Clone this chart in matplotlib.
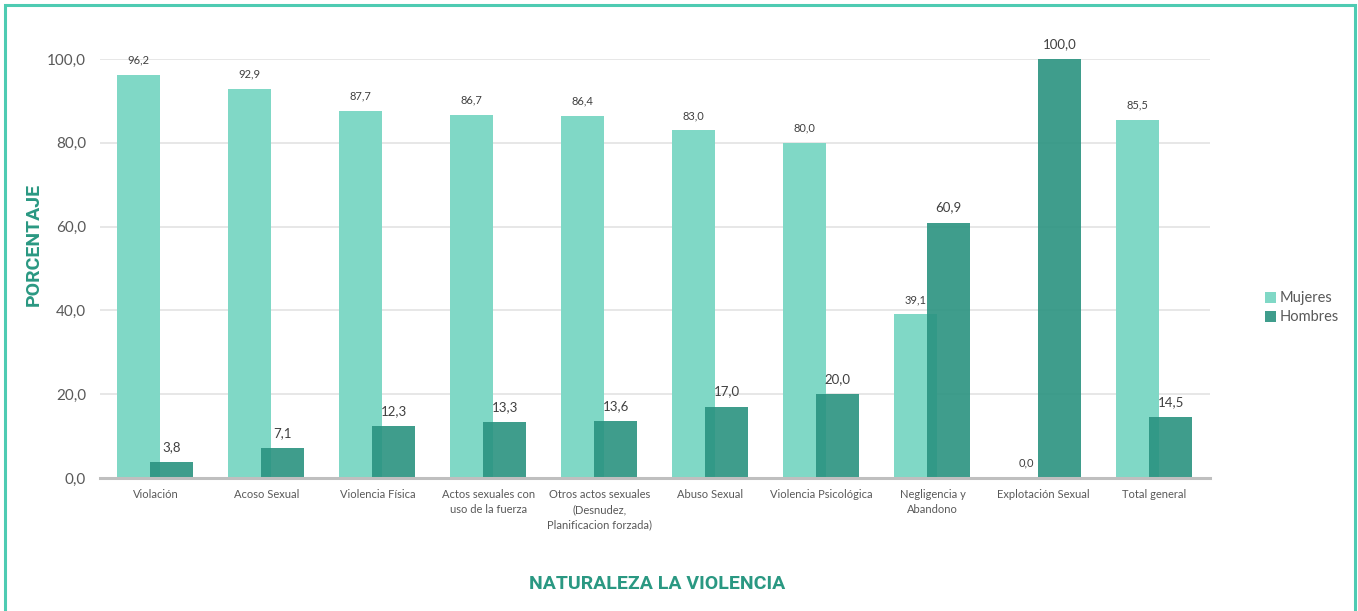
import matplotlib as mpl

mpl.use("Agg")
import matplotlib.pyplot as plt
import numpy as np
from matplotlib.patches import Rectangle

categories = [
    "Violación",
    "Acoso Sexual",
    "Violencia Física",
    "Actos sexuales con\nuso de la fuerza",
    "Otros actos sexuales\n(Desnudez,\nPlanificacion forzada)",
    "Abuso Sexual",
    "Violencia Psicológica",
    "Negligencia y\nAbandono",
    "Explotación Sexual",
    "Total general",
]
mujeres = [96.2, 92.9, 87.7, 86.7, 86.4, 83.0, 80.0, 39.1, 0.0, 85.5]
hombres = [3.8, 7.1, 12.3, 13.3, 13.6, 17.0, 20.0, 60.9, 100.0, 14.5]
yticks = [0, 20, 40, 60, 80, 100]

C_MUJ = "#80D8C6"
C_HOM = "#2A9380"
TEAL_TXT = "#2A9882"
TXT = "#595959"

plt.rcParams["font.family"] = ["Lato", "DejaVu Sans"]

fig = plt.figure(figsize=(13.58, 6.11), dpi=100)
ax = fig.add_axes([0.0736, 0.2177, 0.8174, 0.6857])

x = np.arange(len(categories))
w = 0.39
ax.bar(x - 0.15, mujeres, w, color=C_MUJ, label="Mujeres", zorder=2)
ax.bar(x + 0.145, hombres, w, color=C_HOM, alpha=0.9, label="Hombres", zorder=3)

for xi, v in zip(x, mujeres):
    ax.text(xi - 0.15, v + 2.2, f"{v:.1f}".replace(".", ","), ha="center", va="bottom",
            fontsize=8, color="#404040", clip_on=False)
for xi, v in zip(x, hombres):
    ax.text(xi + 0.145, v + 2.2, f"{v:.1f}".replace(".", ","), ha="center", va="bottom",
            fontsize=9.5, color="#404040", clip_on=False)

ax.set_xlim(-0.5, len(categories) - 0.5)
ax.set_ylim(0, 100)
ax.set_yticks(yticks)
ax.set_yticklabels([f"{t:.1f}".replace(".", ",") for t in yticks], fontsize=11, color=TXT)
ax.set_xticks(x)
ax.set_xticklabels(categories, fontsize=8, color=TXT, linespacing=1.45)
ax.tick_params(axis="both", length=0, pad=8)
ax.tick_params(axis="y", pad=10)
ax.grid(axis="y", color="#E3E3E3", linewidth=1.2, zorder=0)
ax.set_axisbelow(True)
for s in ["top", "right", "left"]:
    ax.spines[s].set_visible(False)
ax.spines["bottom"].set_color("#BFBFBF")
ax.spines["bottom"].set_linewidth(2.2)
ax.spines["bottom"].set_zorder(4)

fig.text(0.025, 0.60, "PORCENTAJE", rotation=90, ha="center", va="center",
         fontsize=14, fontweight="bold", color=TEAL_TXT, family=["Roboto", "DejaVu Sans"])
fig.text(0.484, 0.045, "NATURALEZA LA VIOLENCIA", ha="center", va="center",
         fontsize=14, fontweight="bold", color=TEAL_TXT, family=["Roboto", "DejaVu Sans"])

fig.legend(loc="center left", bbox_to_anchor=(0.922, 0.496), frameon=False,
           fontsize=10.5, handlelength=0.75, handleheight=0.75, handletextpad=0.25,
           labelspacing=0.35, labelcolor=TXT)

fig.patches.append(Rectangle((5 / 1358, -0.05), 1350 / 1358, 1 - 5 / 611 + 0.05,
                             transform=fig.transFigure, fill=False,
                             edgecolor="#4ECBB2", linewidth=2.2))

fig.savefig("out.png", dpi=100)
